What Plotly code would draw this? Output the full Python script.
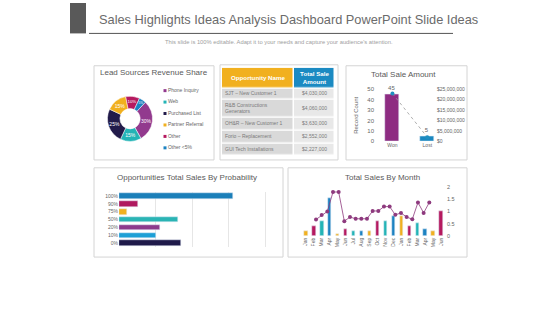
import plotly.graph_objects as go

W, H = 560, 315
FONT = "Liberation Sans, Arial, sans-serif"
GRAY = "#666666"

# ---------------- data ----------------
lead_labels = ["Phone Inquiry", "Web", "Purchased List", "Partner Referral", "Other", "Other <5%"]
lead_share = [30, 15, 25, 15, 10, 5]
lead_colors = ["#923a8e", "#23b4b6", "#221b4a", "#f1b01f", "#b5195f", "#1c82c1"]

opp_names = ["SJT – New Customer 1", "R&B Constructions<br>Generators", "OH&R – New Customer 1",
             "Forio – Replacement", "GUI Tech Installations"]
opp_amounts = ["$4,030,000", "$4,060,000", "$3,630,000", "$2,552,000", "$2,227,000"]
table_header = ["<b>Opportunity Name</b>", "<b>Total Sale<br>Amount</b>"]

sale_status = ["Won", "Lost"]
record_count = [45, 5]
sale_amount = [23000000, 2000000]
status_colors = ["#8e2c82", "#1a88c0"]

prob_labels = ["100%", "90%", "75%", "50%", "20%", "10%", "0%"]
prob_sales = [3.11, 0.52, 0.23, 1.61, 1.11, 1.02, 1.70]
prob_colors = ["#1b7fb9", "#b0195f", "#f1b01f", "#2ab4b4", "#8c3a8c", "#1d9fd6", "#1f1a4a"]

months = ["Jan", "Feb", "Mar", "Apr", "May", "Jun", "Jul", "Aug", "Sep", "Oct", "Nov", "Dec",
          "Jan", "Feb", "Mar", "Apr", "May", "Jun"]
month_sales = [0.20, 0.41, 0.61, 1.54, 0.08, 0.29, 0.19, 0.19, 0.19, 0.61, 0.61, 0.82,
               0.82, 0.38, 0.50, 0.29, 0.19, 1.02]
month_colors = ["#f1b01f", "#b5195f", "#23b4b6", "#1c82c1"]
trend_values = [0.67, 0.85, 1.0, 1.8, 1.8, 0.6, 0.77, 0.7, 0.7, 0.7, 1.02, 1.02, 1.2, 1.2,
                0.86, 0.94, 0.77, 0.68, 1.37, 0.94, 1.37]

# table geometry (style): column widths and row heights in pixels
col_w = [72, 41]
row_h = [21, 12, 18, 13, 13, 13]


def fx(px):
    return px / W


def fy(py):
    return 1 - py / H


fig = go.Figure()

# ---------------- donut ----------------
fig.add_trace(go.Pie(
    labels=lead_labels, values=lead_share, sort=False, direction="clockwise", rotation=43,
    hole=0.45, marker=dict(colors=lead_colors, line=dict(color="white", width=0.5)),
    textinfo="percent", textposition="inside", insidetextorientation="horizontal",
    textfont=dict(size=5, color="white", family=FONT), showlegend=False,
    domain=dict(x=[fx(107), fx(153)], y=[fy(141), fy(95)]),
))

# manual legend for donut
fig.add_trace(go.Scatter(
    x=[0] * len(lead_labels), y=list(range(len(lead_labels))), mode="markers+text",
    marker=dict(symbol="square", size=3, color=lead_colors),
    text=lead_labels, textposition="middle right",
    textfont=dict(size=5, color=GRAY, family=FONT),
    xaxis="x6", yaxis="y6", showlegend=False, cliponaxis=False,
))

# ---------------- table (heatmap cells + text) ----------------
x_edges = [0]
for w_ in col_w:
    x_edges.append(x_edges[-1] + w_)
y_edges = [0]
for h_ in row_h:
    y_edges.append(y_edges[-1] + h_)
n_rows = len(opp_names) + 1
z = [[0, 1]] + [[2, 3] for _ in opp_names]
fig.add_trace(go.Heatmap(
    x=x_edges, y=y_edges, z=z, xgap=1.5, ygap=1.5, showscale=False, hoverinfo="skip",
    zmin=0, zmax=3,
    colorscale=[[0, "#f1b01f"], [0.25, "#f1b01f"], [0.25, "#1b8ac2"], [0.5, "#1b8ac2"],
                [0.5, "#d9d9d9"], [0.75, "#d9d9d9"], [0.75, "#e8e8e8"], [1, "#e8e8e8"]],
    xaxis="x7", yaxis="y7",
))
row_c = [(y_edges[i] + y_edges[i + 1]) / 2 for i in range(n_rows)]
col_c = [(x_edges[i] + x_edges[i + 1]) / 2 for i in range(len(col_w))]
fig.add_trace(go.Scatter(
    x=col_c, y=[row_c[0]] * 2, mode="text", text=table_header,
    textfont=dict(size=6.2, color="white", family=FONT), xaxis="x7", yaxis="y7",
    showlegend=False, hoverinfo="skip",
))
fig.add_trace(go.Scatter(
    x=[x_edges[0] + 3] * len(opp_names), y=row_c[1:], mode="text", text=opp_names,
    textposition="middle right", textfont=dict(size=5, color="#7a7a7a", family=FONT),
    xaxis="x7", yaxis="y7", showlegend=False, hoverinfo="skip",
))
fig.add_trace(go.Scatter(
    x=[col_c[1]] * len(opp_amounts), y=row_c[1:], mode="text", text=opp_amounts,
    textfont=dict(size=5, color="#7a7a7a", family=FONT),
    xaxis="x7", yaxis="y7", showlegend=False, hoverinfo="skip",
))

# ---------------- total sale amount ----------------
fig.add_trace(go.Bar(
    x=[0, 1], y=record_count, width=0.4, marker_color=status_colors,
    text=[str(v) for v in record_count], textposition="outside",
    textfont=dict(size=6, color=GRAY, family=FONT), cliponaxis=False,
    xaxis="x", yaxis="y", showlegend=False,
))
fig.add_trace(go.Scatter(
    x=[0, 1], y=sale_amount, mode="lines+markers",
    line=dict(color="#9a9a9a", width=0.8, dash="dot"),
    marker=dict(color="#1f8fc0", size=4), xaxis="x", yaxis="y2", showlegend=False,
))

# ---------------- probability ----------------
fig.add_trace(go.Bar(
    y=prob_labels, x=prob_sales, orientation="h", width=0.72, marker_color=prob_colors,
    xaxis="x3", yaxis="y3", showlegend=False,
))

# ---------------- monthly ----------------
fig.add_trace(go.Bar(
    x=list(range(len(months))), y=month_sales, width=0.45,
    marker_color=[month_colors[i % len(month_colors)] for i in range(len(months))],
    xaxis="x4", yaxis="y4", showlegend=False,
))
fig.add_trace(go.Scatter(
    x=list(range(len(trend_values))), y=trend_values, mode="lines+markers",
    line=dict(color="#8e3a7e", width=0.8), marker=dict(color="#8e3a7e", size=4),
    xaxis="x5", yaxis="y4", showlegend=False, cliponaxis=False,
))

tick_font = dict(size=5, color=GRAY, family=FONT)
noaxis = dict(showgrid=False, zeroline=False, showline=False, ticks="")

shapes = []
shapes.append(dict(type="rect", xref="paper", yref="paper", x0=fx(70), x1=fx(86), y0=fy(31), y1=fy(0),
                   fillcolor="#595959", line=dict(width=0)))
shapes.append(dict(type="line", xref="paper", yref="paper", x0=fx(89), x1=fx(453), y0=fy(31), y1=fy(31),
                   line=dict(color="#555555", width=1)))
for (a, b, c, d) in [(94, 64, 214, 160), (220, 63, 338, 160), (346, 64, 467, 160),
                     (94, 168, 283, 259), (288, 168, 467, 259)]:
    shapes.append(dict(type="rect", xref="paper", yref="paper", x0=fx(a), x1=fx(c), y0=fy(d), y1=fy(b),
                       line=dict(color="#d4d4d4", width=1), fillcolor="rgba(0,0,0,0)", layer="below"))

annotations = []


def txt(text, x, y, size, color):
    annotations.append(dict(text=text, x=fx(x), y=fy(y), xref="paper", yref="paper", showarrow=False,
                            font=dict(size=size, color=color, family=FONT), xanchor="center",
                            yanchor="middle"))


txt("Sales Highlights Ideas Analysis Dashboard PowerPoint Slide Ideas", 288, 17, 12.8, "#6b6b6b")
txt("This slide is 100% editable. Adapt it to your needs and capture your audience's attention.",
    279, 39.5, 5.8, "#a0a0a0")
txt("Lead Sources Revenue Share", 154, 71, 8, "#5a5a5a")
txt("Total Sale Amount", 403, 73, 8, "#5a5a5a")
txt("Opportunities Total Sales By Probability", 187, 178, 8, "#5a5a5a")
txt("Total Sales By Month", 382, 178, 8, "#5a5a5a")

fig.update_layout(
    width=W, height=H, margin=dict(l=0, r=0, t=0, b=0), paper_bgcolor="white", plot_bgcolor="white",
    font=dict(family=FONT, color=GRAY), showlegend=False, bargap=0,
    shapes=shapes, annotations=annotations,
    xaxis=dict(domain=[fx(375), fx(436)], range=[-0.5, 1.25], tickvals=[0, 1], ticktext=sale_status,
               tickfont=tick_font, **noaxis),
    yaxis=dict(domain=[fy(141), fy(88)], range=[0, 50], dtick=10, tickfont=dict(size=6, color=GRAY, family=FONT),
               title=dict(text="Record Count", font=dict(size=6, color=GRAY, family=FONT), standoff=8),
               **noaxis),
    yaxis2=dict(overlaying="y", side="right", anchor="x", range=[0, 25000000], dtick=5000000,
                tickprefix="$", tickformat=",d", tickfont=tick_font, **noaxis),
    xaxis3=dict(domain=[fx(119), fx(269)], range=[0, 4.1], dtick=1, showticklabels=False, anchor="y3",
                showgrid=True, gridcolor="#e6e6e6", gridwidth=1, zeroline=False, showline=False, ticks=""),
    yaxis3=dict(domain=[fy(249), fy(192.7)], anchor="x3", categoryorder="array", categoryarray=prob_labels,
                autorange="reversed", tickfont=tick_font, **noaxis),
    xaxis4=dict(domain=[fx(301), fx(446)], range=[-0.6, 17.6], anchor="y4", tickvals=list(range(len(months))),
                ticktext=months, tickangle=-90, tickfont=tick_font, **noaxis),
    yaxis4=dict(domain=[fy(237.3), fy(187.7)], range=[0, 2], dtick=0.5, side="right", anchor="x4",
                tickfont=dict(size=5.5, color=GRAY, family=FONT), **noaxis),
    xaxis5=dict(overlaying="x4", anchor="y4", range=[-2.65, 22.95], visible=False),
    xaxis6=dict(domain=[fx(165), fx(212)], range=[0, 1], anchor="y6", visible=False),
    yaxis6=dict(domain=[fy(153.5), fy(83.5)], range=[5.5, -0.5], anchor="x6", visible=False),
    xaxis7=dict(domain=[fx(222), fx(222 + sum(col_w))], range=[0, sum(col_w)], anchor="y7", visible=False),
    yaxis7=dict(domain=[fy(66 + sum(row_h)), fy(66)], range=[sum(row_h), 0], anchor="x7", visible=False),
)

fig.write_html("out.html")
